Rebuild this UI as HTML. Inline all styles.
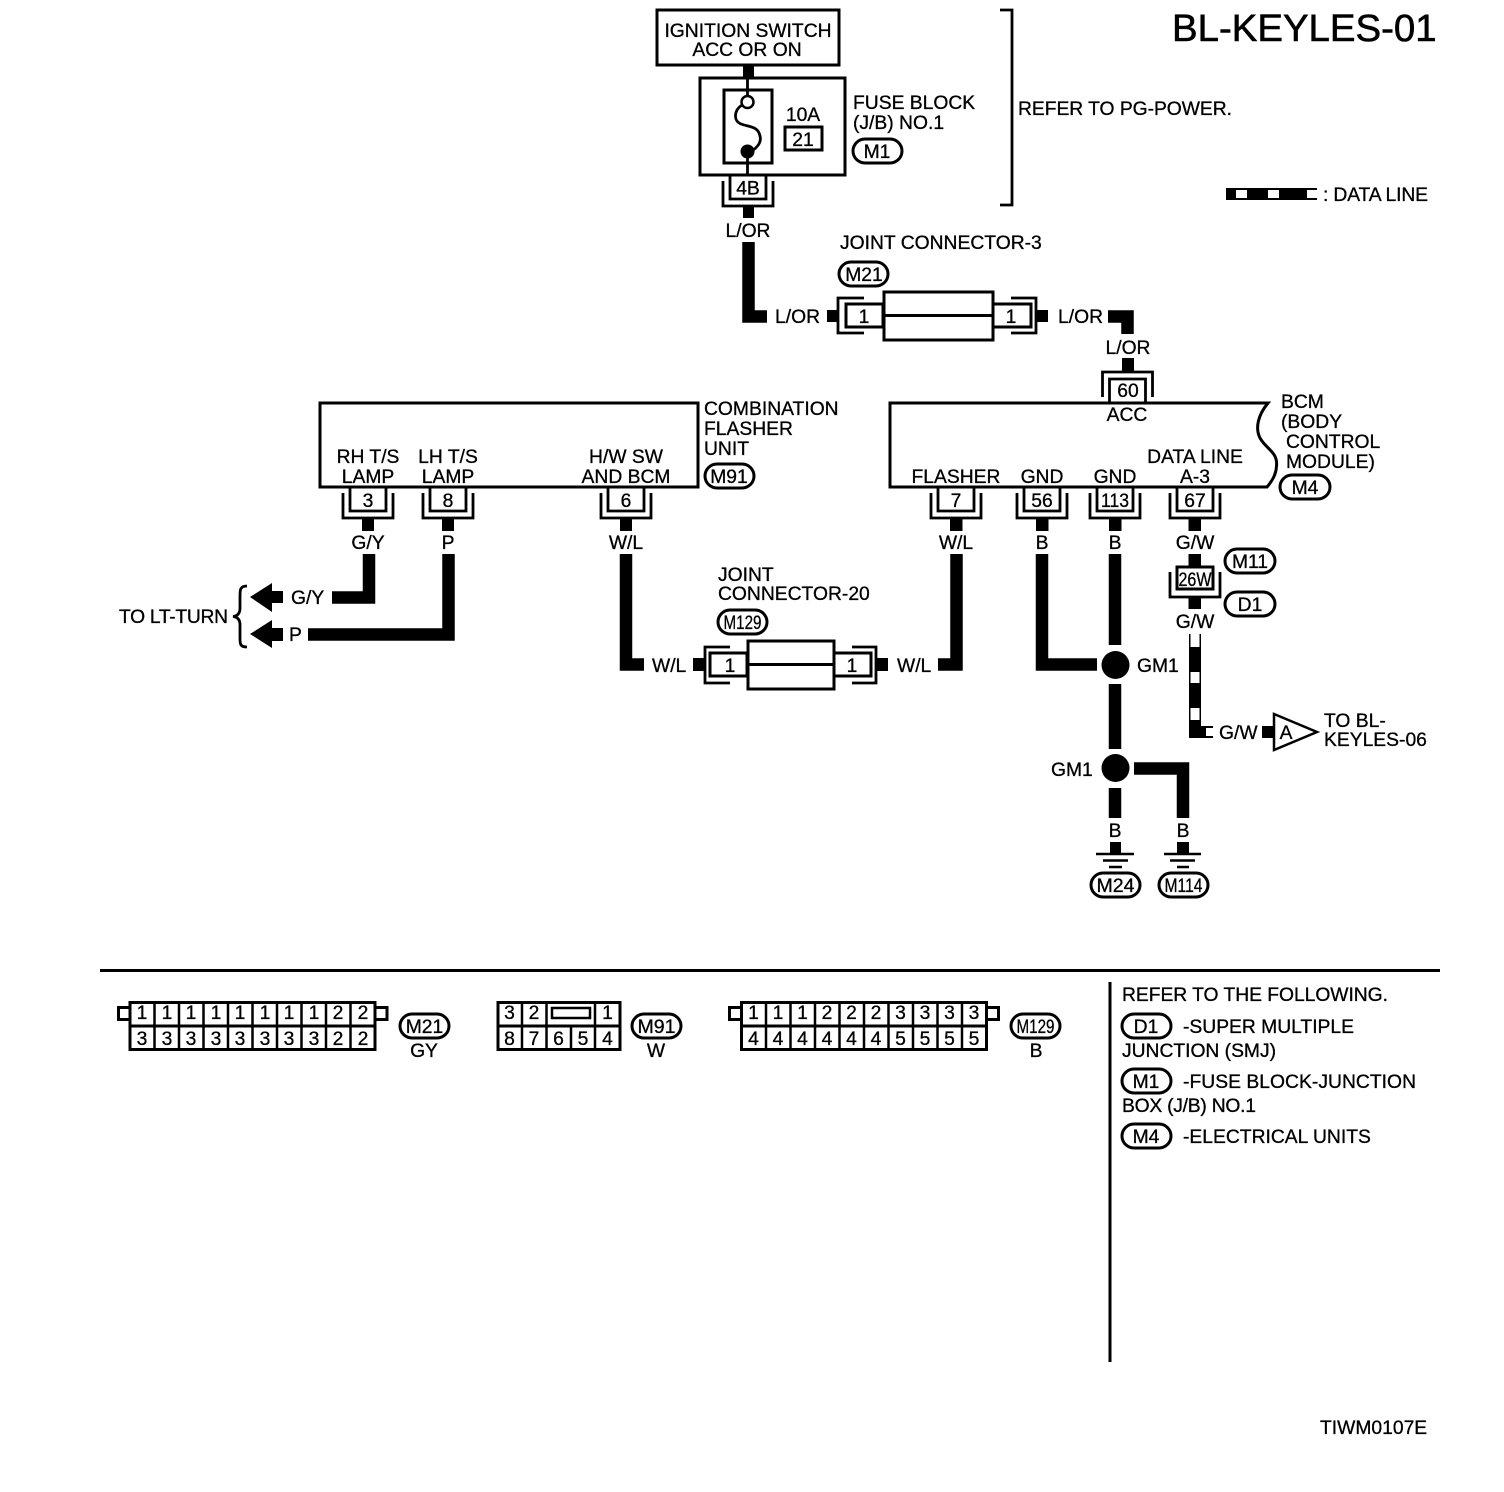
<!DOCTYPE html>
<html>
<head>
<meta charset="utf-8">
<title>BL-KEYLES-01</title>
<style>
html,body{margin:0;padding:0;background:#fff}
svg{display:block}
text{font-family:"Liberation Sans",Arial,sans-serif;font-size:19.3px;fill:#000;stroke:#000;stroke-width:.3}
.m{text-anchor:middle}
.w{fill:none;stroke:#000;stroke-width:12.5;stroke-linejoin:miter}
.b{fill:#fff;stroke:#000;stroke-width:3}
.t{fill:none;stroke:#000;stroke-width:2.8}
.g{fill:none;stroke:#000;stroke-width:2.5}
.p{fill:#fff;stroke:#000;stroke-width:3}
</style>
</head>
<body>
<svg xmlns="http://www.w3.org/2000/svg" width="1504" height="1492" viewBox="0 0 1504 1492">
<defs>
<path id="u" class="t" d="M-25 5V30H25V5M-18 0V23H18V0"/>
</defs>
<rect width="1504" height="1492" fill="#fff"/>

<text x="1172" y="41" style="font-size:38.4px;stroke-width:.6">BL-KEYLES-01</text>

<!-- ignition and fuse -->
<rect class="b" x="657" y="10" width="182" height="55"/>
<text class="m" x="748" y="37">IGNITION SWITCH</text>
<text class="m" x="747" y="56">ACC OR ON</text>
<rect x="743" y="65" width="11" height="13"/>
<rect class="b" x="700" y="78" width="145" height="97"/>
<rect class="b" x="724" y="90" width="48" height="73"/>
<path class="t" d="M747.5 78V96M747.5 158V175"/>
<circle cx="747.5" cy="102" r="6" fill="#fff" stroke="#000" stroke-width="2.5"/>
<path class="t" d="M742 105C734 110 733 121 741 124C749 127 758 126 760 136C762 143 756 148 752 151"/>
<circle cx="747.5" cy="151.500" r="7"/>
<text class="m" x="803" y="121">10A</text>
<rect class="b" x="785" y="127" width="37" height="23"/>
<text class="m" x="803" y="146">21</text>
<text x="853" y="109">FUSE BLOCK</text>
<text x="853" y="129">(J/B) NO.1</text>
<rect class="p" x="853" y="139" width="49" height="24" rx="12"/>
<text class="m" x="877" y="158">M1</text>
<path class="t" d="M1000 10H1012V205H1000"/>
<text x="1018" y="115" textLength="214">REFER TO PG-POWER.</text>

<!-- legend -->
<rect x="1226" y="188" width="91" height="12"/>
<rect x="1236" y="190" width="11" height="8" fill="#fff"/>
<rect x="1268" y="190" width="11" height="8" fill="#fff"/>
<rect x="1307" y="190" width="10" height="8" fill="#fff"/>
<text x="1323" y="201" textLength="105">: DATA LINE</text>

<!-- 4B -->
<use href="#u" transform="translate(748,176)"/>
<text class="m" x="748" y="194.500">4B</text>
<rect x="743" y="206" width="11" height="12"/>
<text class="m" x="748" y="237">L/OR</text>
<path class="w" d="M748.500 242V316.500H767"/>
<text x="775" y="323">L/OR</text>

<!-- joint connector 3 -->
<text x="840" y="249">JOINT CONNECTOR-3</text>
<rect class="p" x="839" y="262" width="49" height="24" rx="12"/>
<text class="m" x="864" y="281">M21</text>
<rect x="827" y="310" width="10" height="12"/>
<path class="t" d="M864 298H838V333H864"/>
<rect class="b" x="846" y="304" width="37" height="23"/>
<text class="m" x="864" y="323">1</text>
<rect class="b" x="884" y="292" width="109" height="48"/>
<path d="M884 315.500H993" stroke="#000" stroke-width="3"/>
<rect class="b" x="993" y="304" width="38" height="23"/>
<text class="m" x="1011" y="323">1</text>
<path class="t" d="M1011 298H1036V333H1011"/>
<rect x="1037" y="310" width="11" height="12"/>
<text x="1058" y="323">L/OR</text>
<path class="w" d="M1108 316.500H1127.500V334"/>
<text class="m" x="1128" y="354">L/OR</text>
<rect x="1122" y="358" width="12" height="13"/>

<!-- flasher unit -->
<rect class="b" x="320" y="403" width="378" height="84"/>
<text class="m" x="368" y="463">RH T/S</text>
<text class="m" x="368" y="483">LAMP</text>
<text class="m" x="448" y="463">LH T/S</text>
<text class="m" x="448" y="483">LAMP</text>
<text class="m" x="626" y="463">H/W SW</text>
<text class="m" x="626" y="483">AND BCM</text>
<text x="704" y="415">COMBINATION</text>
<text x="704" y="435">FLASHER</text>
<text x="704" y="455">UNIT</text>
<rect class="p" x="705" y="464" width="49" height="24" rx="12"/>
<text class="m" x="729" y="483">M91</text>

<use href="#u" transform="translate(368,488)"/>
<use href="#u" transform="translate(448,488)"/>
<use href="#u" transform="translate(626,488)"/>
<text class="m" x="368" y="507">3</text>
<text class="m" x="448" y="507">8</text>
<text class="m" x="626" y="507">6</text>
<rect x="362" y="518" width="12" height="13"/>
<rect x="442" y="518" width="12" height="13"/>
<rect x="620" y="518" width="12" height="13"/>
<text class="m" x="368" y="549">G/Y</text>
<text class="m" x="448" y="549">P</text>
<text class="m" x="626" y="549">W/L</text>

<path class="w" d="M369 554V597.500H332"/>
<path class="w" d="M448.500 554V634.500H308"/>
<text x="291" y="604">G/Y</text>
<text x="289" y="641">P</text>
<path d="M250 597L272 583V591H283V603H272V612Z"/>
<path d="M250 634L272 620V628H283V641H272V648Z"/>
<path class="t" d="M247 586C240 586 240 590 240 596V608C240 613 238 616 233 616.500C238 617 240 620 240 625V638C240 644 240 647 247 647"/>
<text x="119" y="623" textLength="109">TO LT-TURN</text>

<!-- joint connector 20 -->
<path class="w" d="M626 554V664.500H644"/>
<text x="652" y="672">W/L</text>
<rect x="693" y="658" width="11" height="13"/>
<path class="t" d="M730 647H705V683H730"/>
<rect class="b" x="710" y="653" width="37" height="23"/>
<text class="m" x="730" y="672">1</text>
<rect class="b" x="748" y="641" width="86" height="48"/>
<path d="M748 664.500H834" stroke="#000" stroke-width="3"/>
<rect class="b" x="834" y="653" width="37" height="23"/>
<text class="m" x="852" y="672">1</text>
<path class="t" d="M852 647H876V683H852"/>
<rect x="877" y="658" width="11" height="13"/>
<text x="897" y="672">W/L</text>
<path class="w" d="M938 664.500H956.500V554"/>
<text x="718" y="581">JOINT</text>
<text x="718" y="600">CONNECTOR-20</text>
<rect class="p" x="718" y="610" width="49" height="24" rx="12"/>
<text class="m" x="742.500" y="629" textLength="38" lengthAdjust="spacingAndGlyphs">M129</text>

<!-- BCM -->
<path class="b" d="M890 403H1268C1258 415 1255 428 1260 438C1266 449 1278 452 1276.500 466C1276 475 1272 481 1267 487H890Z"/>
<use href="#u" transform="translate(1127.500,402) scale(1,-1)"/>
<text class="m" x="1128" y="397">60</text>
<text class="m" x="1127" y="421">ACC</text>
<text class="m" x="956" y="483">FLASHER</text>
<text class="m" x="1042" y="483">GND</text>
<text class="m" x="1115" y="483">GND</text>
<text class="m" x="1195" y="463">DATA LINE</text>
<text class="m" x="1195" y="483">A-3</text>
<text x="1281" y="408">BCM</text>
<text x="1281" y="428">(BODY</text>
<text x="1286" y="448">CONTROL</text>
<text x="1286" y="468">MODULE)</text>
<rect class="p" x="1280" y="475" width="50" height="24" rx="12"/>
<text class="m" x="1305" y="494">M4</text>

<use href="#u" transform="translate(956,488)"/>
<use href="#u" transform="translate(1042,488)"/>
<use href="#u" transform="translate(1115,488)"/>
<use href="#u" transform="translate(1195,488)"/>
<text class="m" x="956" y="507">7</text>
<text class="m" x="1042" y="507">56</text>
<text class="m" x="1115" y="507" textLength="28" lengthAdjust="spacingAndGlyphs">113</text>
<text class="m" x="1195" y="507">67</text>
<rect x="950" y="518" width="12.500" height="13"/>
<rect x="1036" y="518" width="12.500" height="13"/>
<rect x="1109" y="518" width="12.500" height="13"/>
<rect x="1188.500" y="518" width="12.500" height="13"/>
<text class="m" x="956" y="549">W/L</text>
<text class="m" x="1042" y="549">B</text>
<text class="m" x="1115" y="549">B</text>
<text class="m" x="1195" y="549">G/W</text>

<!-- grounds -->
<path class="w" d="M1042 554V664.500H1097"/>
<path class="w" d="M1115 554V645"/>
<circle cx="1115.500" cy="665" r="14"/>
<text x="1137" y="672">GM1</text>
<path class="w" d="M1115 684V749"/>
<circle cx="1115.500" cy="768" r="14"/>
<text x="1051" y="776">GM1</text>
<path class="w" d="M1134 768.500H1183V818"/>
<path class="w" d="M1115 788V818"/>
<text class="m" x="1115" y="837">B</text>
<text class="m" x="1183" y="837">B</text>
<rect x="1110" y="842" width="11" height="12"/>
<rect x="1177" y="842" width="12" height="12"/>
<path class="g" d="M1096 854H1134M1103 860.500H1128M1109 867H1122M1164 854H1201M1170 860.500H1195M1177 867H1189"/>
<rect class="p" x="1091" y="873" width="49" height="24" rx="12"/>
<text class="m" x="1115.500" y="892" textLength="38" lengthAdjust="spacingAndGlyphs">M24</text>
<rect class="p" x="1159" y="873" width="49" height="24" rx="12"/>
<text class="m" x="1183.500" y="892" textLength="38" lengthAdjust="spacingAndGlyphs">M114</text>

<!-- data line branch -->
<rect x="1188.500" y="554" width="12.500" height="12"/>
<rect class="b" x="1177" y="567" width="36" height="22"/>
<text class="m" x="1195" y="586" textLength="33" lengthAdjust="spacingAndGlyphs">26W</text>
<path class="t" d="M1170 572V597H1220V572"/>
<rect x="1188.500" y="598" width="12.500" height="11"/>
<text class="m" x="1195" y="628">G/W</text>
<rect class="p" x="1225" y="549" width="50" height="24" rx="12"/>
<text class="m" x="1250" y="568">M11</text>
<rect class="p" x="1225" y="592" width="50" height="24" rx="12"/>
<text class="m" x="1250" y="611">D1</text>

<path d="M1189 634V738H1206V726H1201V634Z"/>
<rect x="1190.500" y="634" width="9" height="13" fill="#fff"/>
<rect x="1190.500" y="672" width="9" height="11" fill="#fff"/>
<rect x="1190.500" y="708" width="9" height="12" fill="#fff"/>
<path d="M1206 727H1213M1206 737H1213" stroke="#000" stroke-width="2"/>
<text x="1219" y="739">G/W</text>
<rect x="1262" y="726" width="11" height="12"/>
<path class="b" style="stroke-width:2.500" d="M1274 714L1317 732L1274 750Z"/>
<text class="m" x="1286" y="739">A</text>
<text x="1324" y="727">TO BL-</text>
<text x="1324" y="746">KEYLES-06</text>

<!-- bottom section -->
<path d="M100 970.500H1440" stroke="#000" stroke-width="3"/>
<path d="M1110 982V1362" stroke="#000" stroke-width="3"/>

<!-- M21 connector -->
<rect class="b" x="118.500" y="1007.500" width="12" height="12"/>
<rect class="b" x="375" y="1007.500" width="12" height="12"/>
<rect class="b" x="130" y="1002.500" width="245" height="47"/>
<path d="M130 1026H375" stroke="#000" stroke-width="3"/>
<path d="M154.500 1002V1050M179 1002V1050M203.500 1002V1050M228 1002V1050M252.500 1002V1050M277 1002V1050M301.500 1002V1050M326 1002V1050M350.500 1002V1050" stroke="#000" stroke-width="2.500"/>
<text class="m" x="142" y="1019">1</text><text class="m" x="167" y="1019">1</text><text class="m" x="191" y="1019">1</text><text class="m" x="216" y="1019">1</text><text class="m" x="240" y="1019">1</text><text class="m" x="265" y="1019">1</text><text class="m" x="289" y="1019">1</text><text class="m" x="314" y="1019">1</text><text class="m" x="338" y="1019">2</text><text class="m" x="363" y="1019">2</text>
<text class="m" x="142" y="1045">3</text><text class="m" x="167" y="1045">3</text><text class="m" x="191" y="1045">3</text><text class="m" x="216" y="1045">3</text><text class="m" x="240" y="1045">3</text><text class="m" x="265" y="1045">3</text><text class="m" x="289" y="1045">3</text><text class="m" x="314" y="1045">3</text><text class="m" x="338" y="1045">2</text><text class="m" x="363" y="1045">2</text>
<rect class="p" x="400" y="1014" width="49" height="24" rx="12"/>
<text class="m" x="424.500" y="1033">M21</text>
<text class="m" x="424" y="1057">GY</text>

<!-- M91 connector -->
<rect class="b" x="498" y="1002.500" width="122" height="47"/>
<path d="M498 1026H620" stroke="#000" stroke-width="3"/>
<path d="M522 1002V1050M546.500 1002V1026M595 1002V1050M546.500 1026V1050M571 1026V1050" stroke="#000" stroke-width="2.500"/>
<rect x="552" y="1008" width="38" height="10" fill="#fff" stroke="#000" stroke-width="2.500"/>
<text class="m" x="509.500" y="1019">3</text><text class="m" x="534" y="1019">2</text><text class="m" x="607.500" y="1019">1</text>
<text class="m" x="509.500" y="1045">8</text><text class="m" x="534" y="1045">7</text><text class="m" x="558.500" y="1045">6</text><text class="m" x="583" y="1045">5</text><text class="m" x="607.500" y="1045">4</text>
<rect class="p" x="632" y="1014" width="49" height="24" rx="12"/>
<text class="m" x="656.500" y="1033" textLength="38" lengthAdjust="spacingAndGlyphs">M91</text>
<text class="m" x="656" y="1057">W</text>

<!-- M129 connector -->
<rect class="b" x="729.500" y="1007.500" width="12" height="12"/>
<rect class="b" x="986.500" y="1007.500" width="12" height="12"/>
<rect class="b" x="741.500" y="1002.500" width="245" height="47"/>
<path d="M741 1026H987" stroke="#000" stroke-width="3"/>
<path d="M766 1002V1050M790.500 1002V1050M815 1002V1050M839.500 1002V1050M864 1002V1050M888.500 1002V1050M913 1002V1050M937.500 1002V1050M962 1002V1050" stroke="#000" stroke-width="2.500"/>
<text class="m" x="753.500" y="1019">1</text><text class="m" x="778" y="1019">1</text><text class="m" x="802.500" y="1019">1</text><text class="m" x="827" y="1019">2</text><text class="m" x="851.500" y="1019">2</text><text class="m" x="876" y="1019">2</text><text class="m" x="900.500" y="1019">3</text><text class="m" x="925" y="1019">3</text><text class="m" x="949.500" y="1019">3</text><text class="m" x="974" y="1019">3</text>
<text class="m" x="753.500" y="1045">4</text><text class="m" x="778" y="1045">4</text><text class="m" x="802.500" y="1045">4</text><text class="m" x="827" y="1045">4</text><text class="m" x="851.500" y="1045">4</text><text class="m" x="876" y="1045">4</text><text class="m" x="900.500" y="1045">5</text><text class="m" x="925" y="1045">5</text><text class="m" x="949.500" y="1045">5</text><text class="m" x="974" y="1045">5</text>
<rect class="p" x="1011" y="1014" width="49" height="24" rx="12"/>
<text class="m" x="1035.500" y="1033" textLength="38" lengthAdjust="spacingAndGlyphs">M129</text>
<text class="m" x="1036" y="1057">B</text>

<!-- notes -->
<text x="1122" y="1001" textLength="266">REFER TO THE FOLLOWING.</text>
<rect class="p" x="1122" y="1014" width="49" height="24" rx="12"/>
<text class="m" x="1146" y="1033">D1</text>
<text x="1183" y="1033" textLength="171">-SUPER MULTIPLE</text>
<text x="1122" y="1057" textLength="154">JUNCTION (SMJ)</text>
<rect class="p" x="1122" y="1069" width="49" height="24" rx="12"/>
<text class="m" x="1146" y="1088">M1</text>
<text x="1183" y="1088" textLength="233">-FUSE BLOCK-JUNCTION</text>
<text x="1122" y="1112" textLength="134">BOX (J/B) NO.1</text>
<rect class="p" x="1122" y="1124" width="49" height="24" rx="12"/>
<text class="m" x="1146" y="1143">M4</text>
<text x="1183" y="1143">-ELECTRICAL UNITS</text>

<text x="1320" y="1434">TIWM0107E</text>
</svg>
</body>
</html>
